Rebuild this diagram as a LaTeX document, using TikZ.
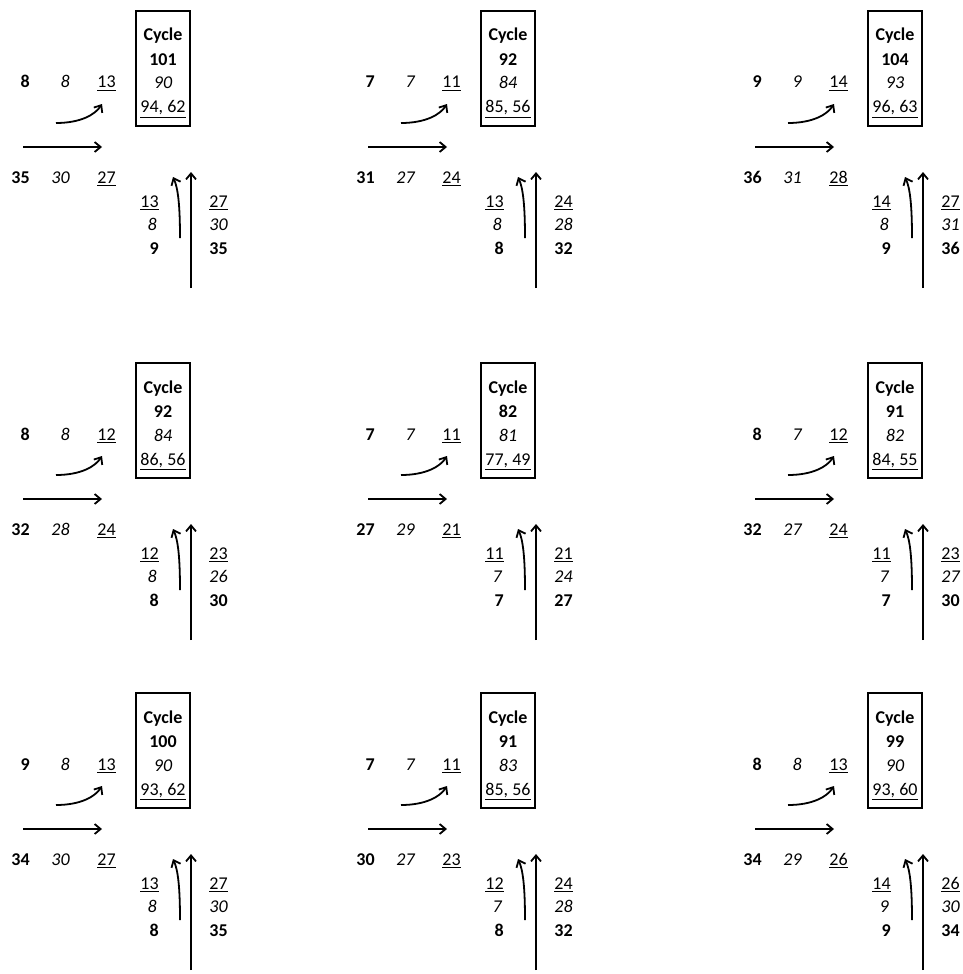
\documentclass[tikz,border=0pt]{standalone}
\usepackage{fontspec}
\setmainfont{Carlito}
\usetikzlibrary{arrows.meta}

\newcommand{\sz}{\fontsize{13.5}{16}\selectfont}

\tikzset{
	flow/.style={-{Straight Barb[length=4.5pt,width=7.5pt]}, line width=1.35pt},
	cyclebox/.style={draw, line width=1.4pt, minimum width=40.5pt, minimum height=86.25pt, inner sep=0pt},
	val/.style={inner sep=0pt, anchor=base east, font=\sz},
	boldval/.style={val, font=\sz\bfseries},
	itval/.style={val, font=\sz\itshape},
	mid/.style={inner sep=0pt, anchor=base, font=\sz},
}

\begin{document}
\begin{tikzpicture}[x=0.75pt, y=-0.75pt]
	\useasboundingbox (0,0) rectangle (963,974);
	% ---- one panel per intersection: offset / id / cycle data / approach data ----
	\foreach \px/\py/\n/\cyc/\cit/\cua/\cub/\tB/\tI/\tU/\bB/\bI/\bU/\lU/\lI/\lB/\rU/\rI/\rB in {
		0/0/1/101/90/94/62/8/8/13/35/30/27/13/8/9/27/30/35,
		345/0/2/92/84/85/56/7/7/11/31/27/24/13/8/8/24/28/32,
		732/0/3/104/93/96/63/9/9/14/36/31/28/14/8/9/27/31/36,
		0/352/4/92/84/86/56/8/8/12/32/28/24/12/8/8/23/26/30,
		345/352/5/82/81/77/49/7/7/11/27/29/21/11/7/7/21/24/27,
		732/352/6/91/82/84/55/8/7/12/32/27/24/11/7/7/23/27/30,
		0/682/7/100/90/93/62/9/8/13/34/30/27/13/8/8/27/30/35,
		345/682/8/91/83/85/56/7/7/11/30/27/23/12/7/8/24/28/32,
		732/682/9/99/90/93/60/8/8/13/34/29/26/14/9/9/26/30/34} {
		\begin{scope}[shift={(\px,\py)}]
			% ---- cycle box ----
			\node[cyclebox] (box\n) at (163,68.5) {};
			\node[mid, font=\sz\bfseries] (cyl\n) at (163,41) {Cycle};
			\node[mid, font=\sz\bfseries] (cyb\n) at (163,65) {\cyc};
			\node[mid, font=\sz\itshape] (cyi\n) at (163,89) {\cit};
			\node[mid] (cyu\n) at (163,113) {\underline{\cua, \cub}};
			
			% ---- left approach, turning (top row) and through (bottom row) ----
			\node[boldval] (tb\n) at (30,88) {\tB};
			\node[itval] (ti\n) at (70,88) {\tI};
			\node[val] (tu\n) at (116,88) {\underline{\tU}};
			\node[boldval] (bb\n) at (30,183) {\bB};
			\node[itval] (bi\n) at (70,183) {\bI};
			\node[val] (bu\n) at (116,183) {\underline{\bU}};
			
			% ---- bottom approach, turning (left column) and through (right column) ----
			\node[val] (lu\n) at (159,207) {\underline{\lU}};
			\node[itval] (li\n) at (157,230) {\lI};
			\node[boldval] (lb\n) at (159,254) {\lB};
			\node[val] (ru\n) at (228,207) {\underline{\rU}};
			\node[itval] (ri\n) at (228,230) {\rI};
			\node[boldval] (rb\n) at (228,254) {\rB};
			
			% ---- movement arrows ----
			\coordinate (ts\n) at (56,123);
			\coordinate (te\n) at (102,104);
			\coordinate (hs\n) at (23,147);
			\coordinate (he\n) at (102,147);
			\coordinate (ls\n) at (180,238);
			\coordinate (le\n) at (173,177);
			\coordinate (vs\n) at (191,288);
			\coordinate (ve\n) at (191,172);
			\draw[flow] (ts\n) .. controls (80,123) and (95,115) .. (te\n);
			\draw[flow] (hs\n) -- (he\n);
			\draw[flow] (ls\n) .. controls (180,205) and (178,188) .. (le\n);
			\draw[flow] (vs\n) -- (ve\n);
		\end{scope}
	}
\end{tikzpicture}
\end{document}
